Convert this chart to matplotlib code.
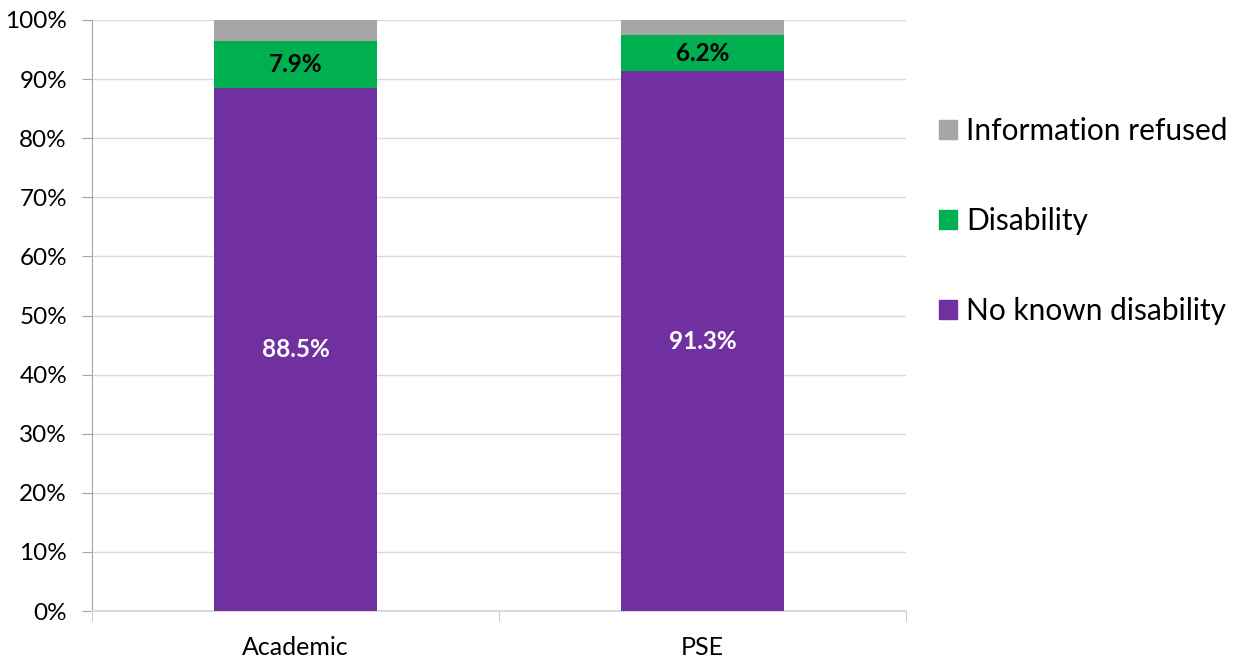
import matplotlib
matplotlib.use("Agg")
import matplotlib.pyplot as plt
import numpy as np
from matplotlib.patches import Patch

plt.rcParams['font.family'] = ['Lato', 'DejaVu Sans']

categories = ["Academic", "PSE"]
no_known = [88.5, 91.3]
disability = [7.9, 6.2]
refused = [3.6, 2.5]
series_names = ["No known disability", "Disability", "Information refused"]
colors = ["#7030A0", "#00B050", "#A6A6A6"]
label_colors = ["white", "black"]

fig = plt.figure(figsize=(12.34, 6.59), dpi=100)
ax = fig.add_axes([92/1234, 48/659, 814/1234, 591/659])

x = np.arange(len(categories))
width = 0.40
bottom = np.zeros(len(categories))
series = [no_known, disability, refused]
for i, vals in enumerate(series):
    vals = np.array(vals)
    bars = ax.bar(x, vals, width, bottom=bottom, color=colors[i], zorder=3)
    if i < 2:
        for xi, b, v in zip(x, bottom, vals):
            ax.text(xi, b + v / 2, f"{v:.1f}%", ha="center", va="center",
                    fontsize=17.5, fontweight="bold", color=label_colors[i], zorder=4)
    bottom += vals

ax.set_xlim(-0.5, len(categories) - 0.5)
ax.set_ylim(0, 100)
ax.set_yticks(np.arange(0, 101, 10))
ax.set_yticklabels([f"{v}%" for v in range(0, 101, 10)], fontsize=17.5)
ax.set_xticks(x)
ax.set_xticklabels(categories, fontsize=18)
ax.tick_params(axis='x', length=0, pad=18)
ax.tick_params(axis='y', length=7, color="#A6A6A6", pad=11)
# category boundary ticks
ax.set_xticks([-0.5, 0.5, 1.5], minor=True)
ax.tick_params(axis='x', which='minor', length=7, color="#BFBFBF", direction='out')

ax.grid(axis='y', color="#D9D9D9", linewidth=1, zorder=0)
for s in ["top", "right"]:
    ax.spines[s].set_visible(False)
ax.spines["left"].set_color("#A6A6A6")
ax.spines["bottom"].set_color("#D9D9D9")
ax.spines["bottom"].set_linewidth(1.5)

handles = [Patch(color=colors[i]) for i in range(3)][::-1]
labels = series_names[::-1]
fig.legend(handles, labels, loc="upper left", bbox_to_anchor=(930/1234, 1 - 108/659),
           frameon=False, fontsize=21.5, handlelength=0.6, handleheight=0.6,
           handletextpad=0.3, labelspacing=2.07, borderaxespad=0, borderpad=0.3)

fig.savefig("out.png", dpi=100)
